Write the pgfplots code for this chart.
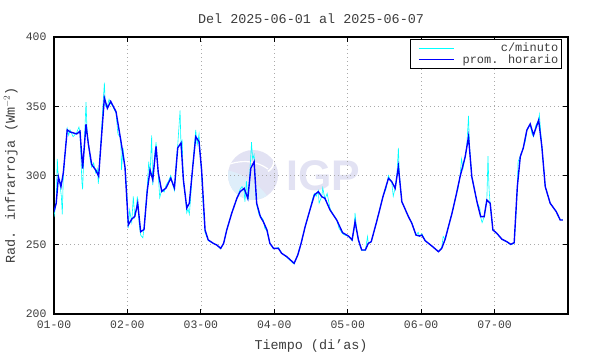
\documentclass[border=0pt]{standalone}
\usepackage{pgfplots}
\pgfplotsset{compat=1.18}
\usepackage{fontspec}
\setmainfont{Liberation Mono}
\newfontfamily\logofont{Liberation Sans}
\definecolor{tickgray}{RGB}{60,60,60}
\definecolor{logoL}{RGB}{226,226,243}
\definecolor{logoB}{RGB}{222,238,250}
\definecolor{gridgray}{RGB}{170,170,170}
\definecolor{mincyan}{RGB}{0,255,255}
\definecolor{hrblue}{RGB}{0,0,255}

\pgfplotstableread{
x y
0.000 274
0.030 280
0.060 299
0.095 292
0.127 302
0.180 333
0.218 331.5
0.309 330
0.354 332
0.390 305
0.436 337
0.467 323
0.513 308
0.567 304
0.608 299.5
0.640 323
0.686 356
0.727 348.5
0.772 353.5
0.845 346
0.909 325.6
0.967 306
1.012 264.3
1.059 268.5
1.100 270.5
1.140 280
1.180 259.4
1.226 261
1.270 289
1.308 304
1.345 297
1.390 321
1.420 302
1.467 288.5
1.526 291
1.590 298
1.640 291
1.685 320
1.730 323.5
1.762 297
1.808 276.5
1.843 280
1.890 306.4
1.930 328
1.975 324.5
2.010 304
2.057 260.7
2.100 253.5
2.170 251
2.217 249.8
2.270 247.4
2.310 251
2.353 260.7
2.420 272.7
2.490 283.5
2.534 288.3
2.590 290.7
2.640 283.5
2.680 305.2
2.725 310
2.760 280
2.810 270.3
2.850 266.7
2.900 260.7
2.940 251
2.990 247.4
3.056 247.4
3.100 243.8
3.170 241.4
3.270 236.6
3.320 242.6
3.365 251
3.420 263
3.490 276
3.546 286
3.600 288.3
3.647 284.7
3.690 283.5
3.760 275
3.850 267.9
3.930 258.7
4.010 256.3
4.060 253.5
4.100 266.7
4.146 253.5
4.190 246.2
4.240 246.2
4.280 251
4.320 252.2
4.400 267.9
4.480 284.7
4.555 298
4.600 295.5
4.646 290.7
4.690 306.4
4.737 281.1
4.827 270.3
4.873 265.5
4.930 257
4.977 256.3
5.010 257
5.055 252.9
5.146 249.1
5.236 245
5.280 247.4
5.327 254
5.360 260.7
5.420 272.7
5.477 285.9
5.530 299.1
5.600 313.6
5.645 328
5.690 299.1
5.760 281.1
5.810 270.3
5.858 270.3
5.895 282.3
5.940 280
5.977 260.7
6.030 258.3
6.100 254
6.167 252.2
6.220 250.3
6.267 251.5
6.310 292
6.350 313.6
6.390 319.7
6.440 332.8
6.485 337.2
6.530 329.2
6.600 340
6.644 320.8
6.690 292
6.757 280
6.840 273.9
6.894 267.9
6.930 267.9
}\hourly

\pgfplotstableread{
x y
0.000 270
0.015 276
0.030 281
0.045 312
0.060 297
0.080 294
0.100 285
0.113 272
0.127 300
0.150 315
0.180 334
0.200 329
0.218 333
0.260 328
0.309 331
0.340 335
0.354 331
0.380 295
0.390 290
0.410 320
0.436 353
0.452 330
0.467 325
0.490 312
0.513 306
0.540 309
0.567 302
0.590 305
0.604 294
0.620 310
0.640 325
0.660 345
0.686 367
0.700 350
0.727 350
0.750 355
0.772 352
0.800 350
0.845 345
0.870 330
0.909 327
0.920 304
0.940 320
0.967 305
0.990 290
1.012 262
1.030 275
1.059 266
1.080 285
1.100 270
1.120 276
1.135 285
1.160 265
1.180 257
1.210 255
1.226 262
1.245 275
1.270 292
1.290 310
1.308 300
1.330 329
1.345 293
1.370 315
1.390 324
1.420 300
1.440 284
1.467 290
1.500 288
1.526 293
1.560 296
1.590 300
1.620 293
1.640 289
1.665 310
1.685 322
1.717 347
1.730 320
1.745 326
1.762 295
1.790 285
1.808 273
1.825 276
1.843 272
1.860 283
1.890 308
1.910 320
1.930 333
1.950 322
1.975 330
1.990 315
2.010 302
2.030 280
2.057 259
2.100 253
2.170 251
2.217 250
2.270 247
2.310 251
2.353 261
2.420 273
2.490 283
2.534 290
2.560 292
2.590 289
2.600 281
2.620 296
2.640 282
2.665 300
2.690 324
2.705 312
2.725 315
2.745 290
2.760 279
2.790 272
2.810 271
2.850 268
2.870 262
2.900 260
2.940 251
2.990 247
3.056 248
3.100 244
3.170 241
3.270 236
3.320 243
3.365 251
3.420 263
3.490 276
3.520 283
3.546 287
3.570 285
3.600 289
3.610 280
3.647 285
3.660 291
3.690 283
3.720 287
3.760 276
3.800 272
3.850 268
3.880 262
3.930 258
3.960 257
4.010 256
4.060 253
4.090 262
4.100 273
4.120 262
4.146 253
4.190 246
4.240 246
4.270 256
4.280 251
4.320 252
4.400 268
4.480 285
4.520 290
4.555 300
4.570 298
4.600 295
4.620 285
4.646 291
4.670 300
4.690 320
4.705 300
4.737 281
4.780 276
4.827 270
4.873 266
4.930 257
4.960 259
4.977 256
5.010 258
5.055 253
5.146 249
5.236 245
5.280 248
5.300 256
5.327 254
5.360 261
5.420 273
5.477 286
5.500 290
5.530 300
5.550 312
5.570 305
5.600 314
5.620 320
5.645 343
5.660 320
5.690 299
5.760 281
5.800 276
5.810 270
5.830 266
5.858 270
5.880 278
5.895 283
5.910 314
5.925 290
5.940 279
5.977 261
6.030 258
6.100 254
6.167 252
6.220 250
6.267 251
6.290 270
6.310 292
6.320 310
6.350 314
6.390 320
6.420 325
6.440 333
6.485 337
6.510 330
6.530 328
6.560 336
6.600 340
6.610 344
6.644 321
6.690 292
6.757 280
6.800 277
6.840 274
6.870 270
6.894 268
6.930 268
}\minute

\begin{document}
\begin{tikzpicture}[x=1bp,y=1bp]
\path[use as bounding box] (0,0) rectangle (590,354);
% watermark logo
\fill[logoL] (253,179) circle (25);
\begin{scope}
\clip (253,179) circle (25);
\fill[logoB] (226,150) -- (226,184) .. controls (242,181) and (262,170) .. (272,150) -- cycle;
\draw[white, line width=1.6] (262,205) arc (90:-60:12);
\draw[white, line width=1.6] (268,208) arc (90:-60:20);
\draw[white, line width=1.2] (230,190) .. controls (245,195) and (258,192) .. (268,185);
\end{scope}
\node[logoL, font=\logofont\bfseries\fontsize{43}{43}\selectfont, anchor=center] at (323,178) {IGP};

\begin{axis}[
  at={(54bp,40bp)}, anchor=south west,
  scale only axis, width=514bp, height=277bp,
  xmin=0, xmax=7, ymin=200, ymax=400,
  xtick={0,1,2,3,4,5,6},
  xticklabels={01-00,02-00,03-00,04-00,05-00,06-00,07-00},
  ytick={200,250,300,350,400},
  /pgf/number format/assume math mode=true,
  tick align=inside,
  xtick pos=both, ytick pos=both,
  major tick length=5bp,
  tick style={black, line width=0.9pt},
  axis line style={black, line width=1.1pt},
  grid=major,
  grid style={gridgray, line width=0.6pt, dash pattern=on 1bp off 3bp},
  ticklabel style={font=\fontsize{11.5}{12}\selectfont, text=tickgray},
  xticklabel style={yshift=-3bp},
  yticklabel style={xshift=-4bp},
  title={Del 2025-06-01 al 2025-06-07},
  every axis title/.style={at={(axis description cs:0.5,1.0505)}, anchor=base, font=\fontsize{13.5}{14}\selectfont, text=tickgray},
  xlabel={Tiempo (di'as)},
  xlabel style={at={(axis description cs:0.5,-0.1264)}, anchor=base, font=\fontsize{13.5}{14}\selectfont, text=tickgray},
  ylabel={Rad. infrarroja (Wm$^{-2}$)},
  every axis y label/.style={at={(axis description cs:-0.076,0.5)}, rotate=90, anchor=base, font=\fontsize{13.5}{14}\selectfont, text=tickgray},
  legend cell align=right,
  legend style={at={(axis description cs:0.9877,0.993)}, anchor=north east,
    font=\fontsize{12}{12}\selectfont, text=tickgray, draw=black, line width=0.8pt,
    inner xsep=1bp, inner ysep=1.5bp, row sep=-2.5bp},
  legend image code/.code={\path (0bp,0bp); \draw[#1] (7bp,0bp) -- (42bp,0bp); \path (48bp,0bp);},
]
\addplot[mincyan, line width=0.6pt, mark=none] table[x=x,y=y] {\minute};
\addlegendentry{c/minuto}
\addplot[hrblue, line width=1.4pt, mark=none] table[x=x,y=y] {\hourly};
\addlegendentry{prom. horario}
\end{axis}
\end{tikzpicture}
\end{document}
